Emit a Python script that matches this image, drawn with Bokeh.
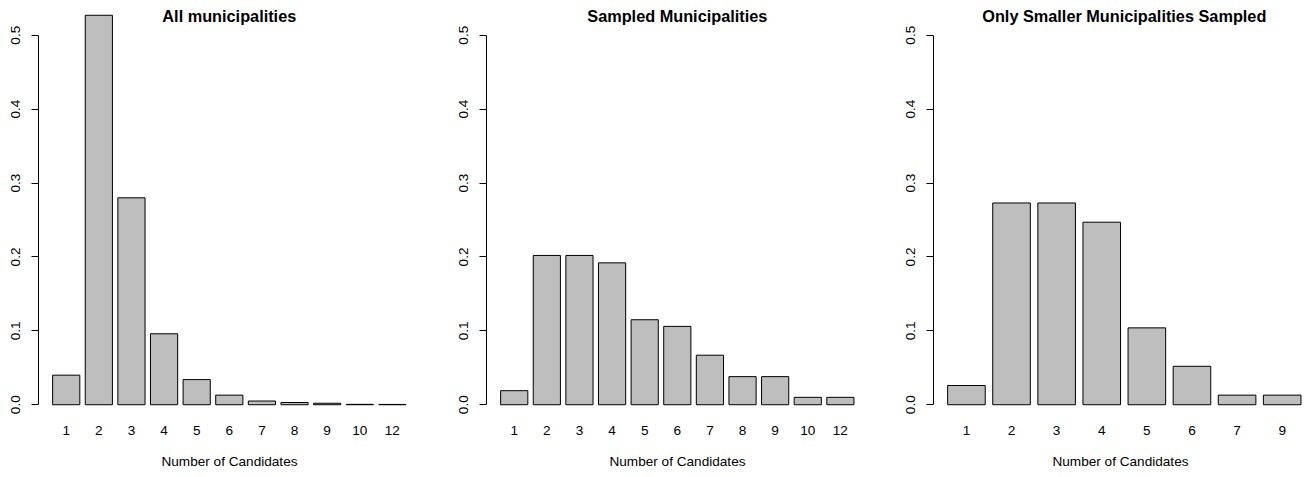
from bokeh.plotting import figure
from bokeh.models import Range1d, FixedTicker, NumeralTickFormatter, Label
from bokeh.layouts import row
from bokeh.embed import file_html
from bokeh.resources import INLINE

# ---- data (proportions) ----
candidates_all = ["1", "2", "3", "4", "5", "6", "7", "8", "9", "10", "12"]
share_all = [0.040, 0.527, 0.280, 0.096, 0.034, 0.013, 0.005, 0.003, 0.002, 0.0005, 0.0004]

candidates_sampled = ["1", "2", "3", "4", "5", "6", "7", "8", "9", "10", "12"]
share_sampled = [0.019, 0.202, 0.202, 0.192, 0.115, 0.106, 0.067, 0.038, 0.038, 0.010, 0.010]

candidates_small = ["1", "2", "3", "4", "5", "6", "7", "9"]
share_small = [0.026, 0.273, 0.273, 0.247, 0.104, 0.052, 0.013, 0.013]

titles = ["All municipalities", "Sampled Municipalities", "Only Smaller Municipalities Sampled"]
y_ticks = [0.0, 0.1, 0.2, 0.3, 0.4, 0.5]
x_title = "Number of Candidates"

FONT = "Liberation Sans"
FS = "13.6px"
TITLE_FS = "16.3px"
BAR_W = 1.0
SPACE = 0.2
REGION_W = 381.6  # width of a full plot region in px


def panel(title, cats, vals, width, left_border, right_border, frame_w):
    n = len(cats)
    step = BAR_W + SPACE
    xs = [step * (i + 1) - BAR_W / 2 for i in range(n)]
    lo, hi = SPACE, step * n
    pad = 0.04 * (hi - lo)
    x_start = lo - pad
    full = (hi - lo) + 2 * pad
    x_stop = x_start + full * frame_w / REGION_W
    p = figure(width=width, height=477,
               x_range=Range1d(x_start, x_stop),
               y_range=Range1d(-0.02, 0.547),
               output_backend="svg", toolbar_location=None,
               min_border_left=left_border, min_border_right=right_border,
               min_border_top=0, min_border_bottom=58)
    p.outline_line_color = None
    p.xgrid.visible = False
    p.ygrid.visible = False
    p.background_fill_color = "white"
    p.border_fill_color = "white"

    p.vbar(x=xs, top=vals, bottom=0, width=BAR_W,
           fill_color="#BEBEBE", line_color="black", line_width=1)

    # x axis: category names only
    xa = p.xaxis[0]
    xa.ticker = FixedTicker(ticks=xs)
    xa.major_label_overrides = {x: c for x, c in zip(xs, cats)}
    xa.axis_line_color = None
    xa.major_tick_line_color = None
    xa.minor_tick_line_color = None
    xa.major_tick_out = 0
    xa.major_tick_in = 0
    xa.major_label_standoff = 6
    xa.major_label_text_font = FONT
    xa.major_label_text_font_size = FS
    xa.major_label_text_color = "black"
    xa.axis_label = x_title
    xa.axis_label_text_font = FONT
    xa.axis_label_text_font_size = FS
    xa.axis_label_text_font_style = "normal"
    xa.axis_label_text_color = "black"
    xa.axis_label_standoff = 16

    # y axis
    ya = p.yaxis[0]
    ya.bounds = (y_ticks[0], y_ticks[-1])
    ya.ticker = FixedTicker(ticks=y_ticks)
    ya.formatter = NumeralTickFormatter(format="0.0")
    ya.major_label_orientation = "vertical"
    ya.major_tick_out = 7
    ya.major_tick_in = 0
    ya.minor_tick_line_color = None
    ya.axis_line_color = "black"
    ya.major_tick_line_color = "black"
    ya.major_label_standoff = 11
    ya.major_label_text_font = FONT
    ya.major_label_text_font_size = FS
    ya.major_label_text_color = "black"

    p.add_layout(Label(x=(lo + hi) / 2, y=404, x_units="data", y_units="screen",
                       text=title, text_align="center", text_baseline="middle",
                       text_font=FONT, text_font_size=TITLE_FS, text_font_style="bold",
                       text_color="black"))
    return p


p1 = panel(titles[0], candidates_all, share_all, 446, 38, 26, 382)
p2 = panel(titles[1], candidates_sampled, share_sampled, 447, 40, 25, 382)
p3 = panel(titles[2], candidates_small, share_small, 414, 40, 0, 374)

layout = row(p1, p2, p3)
open("out.html", "w").write(file_html(layout, INLINE))
